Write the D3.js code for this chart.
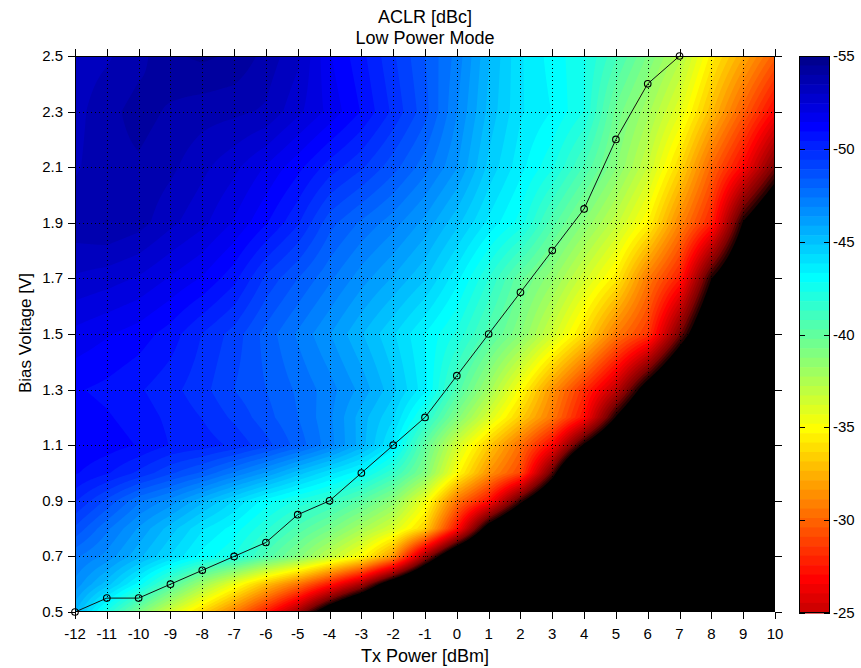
<!DOCTYPE html>
<html>
<head>
<meta charset="utf-8">
<script src="https://cdn.jsdelivr.net/npm/d3@7/dist/d3.min.js"></script>
<style>
html,body{margin:0;padding:0;background:#fff;}
svg text{font-family:"Liberation Sans",Arial,Helvetica,sans-serif;font-size:15px;fill:#000;}
svg text.big{font-size:18px;}
svg text.ylab{font-size:17px;}
</style>
</head>
<body>
<svg id="chart" width="861" height="668"></svg>
<script>
// ---------------- data ----------------
const txPower = [-12,-11,-10,-9,-8,-7,-6,-5,-4,-3,-2,-1,0,1,2,3,4,5,6,7,8,9,10];
const biasVoltage = [0.5,0.6,0.7,0.8,0.9,1.0,1.1,1.2,1.3,1.5,1.7,1.9,2.1,2.3,2.5];
// ACLR [dBc] per bias voltage row, one value per txPower column (values above about -21 show black)
const aclrV050 = [-45.4,-42.2,-39.2,-36.3,-33.6,-30.8,-27.6,-23.8,-18.5,-14,-10,-6,-5,-5,-5,-5,-5,-5,-5,-5,-5,-5,-5];
const aclrV060 = [-46.7,-45.1,-43.1,-40.6,-38.0,-35.5,-32.9,-30.5,-27.5,-24.0,-18.5,-14,-10,-6,-5,-5,-5,-5,-5,-5,-5,-5,-5];
const aclrV070 = [-47.5,-46.7,-45.5,-44.3,-43.1,-42.3,-40.6,-39.0,-37.0,-35.0,-31.6,-23.8,-17.0,-13,-9,-5,-5,-5,-5,-5,-5,-5,-5];
const aclrV080 = [-48.8,-47.5,-46.3,-45.1,-43.9,-43.1,-41.9,-40.6,-39.4,-37.8,-36.2,-33.5,-27.3,-19.4,-15,-11,-7,-5,-5,-5,-5,-5,-5];
const aclrV090 = [-50.0,-48.8,-47.5,-46.7,-45.5,-44.3,-43.1,-42.2,-41.4,-40.2,-38.6,-35.5,-30.5,-27.3,-21.5,-16.5,-12,-8,-5,-5,-5,-5,-5];
const aclrV100 = [-51.0,-50.5,-49.8,-49.0,-48.3,-47.3,-46.3,-45.1,-44.0,-43.0,-41.4,-39.0,-35.0,-31.5,-29.0,-22.0,-13,-9,-5,-5,-5,-5,-5];
const aclrV110 = [-51.4,-51.2,-50.9,-50.4,-50.2,-49.8,-49.1,-48.2,-47.1,-45.6,-43.7,-40.0,-36.4,-33.3,-30.3,-26.8,-20.6,-16,-12,-8,-5,-5,-5];
const aclrV120 = [-51.2,-51.0,-50.7,-50.3,-49.9,-49.3,-48.6,-47.9,-47.0,-45.6,-44.4,-42.0,-39.0,-36.2,-33.4,-30.6,-27.1,-20.8,-16,-12,-8,-5,-5];
const aclrV130 = [-51.0,-50.8,-50.5,-50.1,-49.6,-48.9,-48.4,-47.8,-47.1,-46.2,-45.0,-43.5,-40.6,-38.0,-35.0,-31.5,-28.2,-24.8,-19.4,-15,-11,-7,-5];
const aclrV150 = [-51.8,-51.5,-51.2,-50.7,-49.9,-49.2,-48.2,-47.3,-46.4,-45.4,-44.4,-43.3,-42.2,-40.5,-38.8,-36.5,-33.9,-30.7,-28.5,-22.6,-17,-13,-9];
const aclrV170 = [-52.9,-52.7,-52.4,-51.9,-51.4,-50.6,-49.3,-48.4,-47.5,-46.6,-45.8,-44.9,-43.5,-41.8,-39.9,-38.4,-36.4,-34.4,-30.7,-27.7,-21.0,-17,-13];
const aclrV190 = [-53.8,-54.0,-53.7,-53.1,-52.6,-51.9,-51.0,-50.0,-48.6,-47.8,-47.1,-46.2,-45.0,-43.7,-42.6,-40.5,-38.7,-36.9,-34.7,-31.1,-27.8,-20.8,-17];
const aclrV210 = [-53.4,-53.8,-53.9,-53.6,-53.1,-52.6,-51.9,-51.1,-50.2,-49.5,-48.6,-47.6,-46.4,-44.7,-43.5,-42.4,-40.7,-38.8,-36.7,-33.7,-30.0,-26.8,-22.5];
const aclrV230 = [-53.3,-53.8,-54.2,-53.9,-53.7,-53.6,-53.4,-52.6,-51.8,-50.9,-49.8,-48.6,-46.9,-45.2,-43.9,-43.3,-42.3,-39.6,-37.9,-35.8,-32.8,-29.8,-26.8];
const aclrV250 = [-53.2,-53.4,-53.8,-54.4,-54.6,-54.4,-53.8,-53.1,-51.5,-50.6,-49.5,-48.4,-47.2,-45.4,-43.9,-43.1,-42.4,-40.9,-39.2,-37.4,-34.5,-32.2,-29.8];
const aclrGrid = [aclrV050,aclrV060,aclrV070,aclrV080,aclrV090,aclrV100,aclrV110,aclrV120,aclrV130,aclrV150,aclrV170,aclrV190,aclrV210,aclrV230,aclrV250];

// overlaid line (chosen bias per Tx power)
const lineTx   = [-12,-11,-10,-9,-8,-7,-6,-5,-4,-3,-2,-1,0,1,2,3,4,5,6,7];
const lineBias = [0.5,0.55,0.55,0.6,0.65,0.7,0.75,0.85,0.9,1.0,1.1,1.2,1.35,1.5,1.65,1.8,1.95,2.2,2.4,2.5];

// tick labels
const xTickValues = [-12,-11,-10,-9,-8,-7,-6,-5,-4,-3,-2,-1,0,1,2,3,4,5,6,7,8,9,10];
const yTickValues = [0.5,0.7,0.9,1.1,1.3,1.5,1.7,1.9,2.1,2.3,2.5];
const cbTickValues = [-55,-50,-45,-40,-35,-30,-25];
const cmapMin = -55, cmapMax = -22.5;   // colour scale limits
const cbMin = -55, cbMax = -25;          // colour bar shown range

// ---------------- layout ----------------
const svg = d3.select("#chart");
const plot = {left:75, right:775, top:56, bottom:612};
const cbox = {left:799, right:830, top:56, bottom:613};
const xScale = d3.scaleLinear().domain([-12,10]).range([plot.left, plot.right]);
const yScale = d3.scaleLinear().domain([0.5,2.5]).range([plot.bottom, plot.top]);
const cbScale = d3.scaleLinear().domain([cbMin, cbMax]).range([cbox.top, cbox.bottom]);

// MATLAB jet(64)
function jetColormap(m){
  const n = Math.ceil(m/4);
  const u = [];
  for(let k=1;k<=n;k++) u.push(k/n);
  for(let k=1;k<n;k++) u.push(1);
  for(let k=n;k>=1;k--) u.push(k/n);
  const g0 = Math.ceil(n/2) - ((m%4)===1?1:0);
  const J = Array.from({length:m}, ()=>[0,0,0]);
  for(let k=1;k<=u.length;k++){
    const g=g0+k, r=g+n, b=g-n;
    if(r>=1&&r<=m) J[r-1][0]=u[k-1];
    if(g>=1&&g<=m) J[g-1][1]=u[k-1];
    if(b>=1&&b<=m) J[b-1][2]=u[k-1];
  }
  return J;
}
const jet = jetColormap(64);
const extraDark = [[0.38,0,0],[0.26,0,0],[0.14,0,0],[0,0,0]];
const bands = jet.concat(extraDark);
const bandStep = (cmapMax - cmapMin)/64;
const bandColor = k => { const c = bands[Math.max(0,Math.min(k,bands.length-1))]; return d3.rgb(c[0]*255,c[1]*255,c[2]*255).toString(); };

// resample grid for filled contour bands
function locate(arr, v){
  let i = d3.bisectRight(arr, v) - 1;
  i = Math.max(0, Math.min(arr.length-2, i));
  const t = (v-arr[i])/(arr[i+1]-arr[i]);
  return [i, Math.max(0, Math.min(1, t))];
}
const sx = 0.05, sy = 0.01;
const x0 = txPower[0], yTop = biasVoltage[biasVoltage.length-1];
const nx = Math.round((txPower[txPower.length-1]-x0)/sx)+1;
const ny = Math.round((yTop-biasVoltage[0])/sy)+1;
const values = new Float64Array(nx*ny);
for(let j=0;j<ny;j++){
  const yv = yTop - j*sy;
  const [ri, rt] = locate(biasVoltage, yv);
  for(let i=0;i<nx;i++){
    const xv = x0 + i*sx;
    const [ci, ct] = locate(txPower, xv);
    const a = aclrGrid[ri][ci], b = aclrGrid[ri][ci+1], c = aclrGrid[ri+1][ci], d = aclrGrid[ri+1][ci+1];
    values[j*nx+i] = (a*(1-ct)+b*ct)*(1-rt) + (c*(1-ct)+d*ct)*rt;
  }
}
const thresholds = d3.range(1, bands.length).map(k => cmapMin + k*bandStep);
const contours = d3.contours().size([nx, ny]).thresholds(thresholds)(values);
const proj = d3.geoTransform({point(px, py){
  this.stream.point(xScale(x0 + (px-0.5)*sx), yScale(yTop - (py-0.5)*sy));
}});
const path = d3.geoPath(proj);

svg.append("defs").append("clipPath").attr("id","plotclip")
  .append("rect").attr("x",plot.left).attr("y",plot.top)
  .attr("width",plot.right-plot.left).attr("height",plot.bottom-plot.top);

const field = svg.append("g").attr("clip-path","url(#plotclip)");
field.append("rect").attr("x",plot.left).attr("y",plot.top)
  .attr("width",plot.right-plot.left).attr("height",plot.bottom-plot.top)
  .attr("fill",bandColor(0));
field.selectAll("path.band").data(contours).join("path")
  .attr("class","band").attr("d",path)
  .attr("fill",(d,i)=>bandColor(i+1)).attr("stroke","none");

// dotted grid
const grid = svg.append("g").attr("clip-path","url(#plotclip)")
  .attr("stroke","#000").attr("stroke-width",1).attr("stroke-dasharray","1,3");
grid.selectAll("line.gx").data(xTickValues.slice(1,-1)).join("line")
  .attr("x1",d=>Math.round(xScale(d))+0.5).attr("x2",d=>Math.round(xScale(d))+0.5)
  .attr("y1",plot.top).attr("y2",plot.bottom);
grid.selectAll("line.gy").data(yTickValues.slice(1,-1)).join("line")
  .attr("y1",d=>Math.round(yScale(d))+0.5).attr("y2",d=>Math.round(yScale(d))+0.5)
  .attr("x1",plot.left).attr("x2",plot.right);

// line with circle markers
const pts = lineTx.map((t,i)=>[t, lineBias[i]]);
svg.append("path").datum(pts)
  .attr("d", d3.line().x(d=>xScale(d[0])).y(d=>yScale(d[1])))
  .attr("fill","none").attr("stroke","#111").attr("stroke-width",1);
svg.append("g").selectAll("circle").data(pts).join("circle")
  .attr("cx",d=>xScale(d[0])).attr("cy",d=>yScale(d[1])).attr("r",3.3)
  .attr("fill","none").attr("stroke","#000").attr("stroke-width",1.1);

// axes box and ticks
const ax = svg.append("g").attr("stroke","#000").attr("stroke-width",1);
ax.append("rect").attr("x",plot.left+0.5).attr("y",plot.top+0.5)
  .attr("width",plot.right-plot.left-1).attr("height",plot.bottom-plot.top-1).attr("fill","none");
const tl = 7;
xTickValues.forEach(v=>{
  const px = Math.round(xScale(v))+0.5;
  ax.append("line").attr("x1",px).attr("x2",px).attr("y1",plot.bottom).attr("y2",plot.bottom+tl);
  ax.append("line").attr("x1",px).attr("x2",px).attr("y1",plot.top).attr("y2",plot.top-tl);
});
yTickValues.forEach(v=>{
  const py = Math.round(yScale(v))+0.5;
  ax.append("line").attr("y1",py).attr("y2",py).attr("x1",plot.left).attr("x2",plot.left-tl);
  ax.append("line").attr("y1",py).attr("y2",py).attr("x1",plot.right).attr("x2",plot.right+tl);
});
svg.append("g").selectAll("text").data(xTickValues).join("text")
  .attr("x",d=>xScale(d)).attr("y",639).attr("text-anchor","middle").text(d=>String(d));
svg.append("g").selectAll("text").data(yTickValues).join("text")
  .attr("x",63).attr("y",d=>yScale(d)+5).attr("text-anchor","end").text(d=>d.toFixed(1));

// titles and axis labels
svg.append("text").attr("class","big").attr("x",425).attr("y",23).attr("text-anchor","middle").text("ACLR [dBc]");
svg.append("text").attr("class","big").attr("x",425).attr("y",44).attr("text-anchor","middle").text("Low Power Mode");
svg.append("text").attr("class","big").attr("x",425).attr("y",662).attr("text-anchor","middle").text("Tx Power [dBm]");
svg.append("text").attr("class","ylab").attr("transform","translate(31,333) rotate(-90)").attr("text-anchor","middle").text("Bias Voltage [V]");

// colour bar
const cb = svg.append("g");
d3.range(0,64).forEach(k=>{
  const lo = Math.max(cbMin, k===0 ? cbMin : cmapMin + k*bandStep);
  const hi = Math.min(cbMax, cmapMin + (k+1)*bandStep);
  if(hi <= lo) return;
  cb.append("rect").attr("x",cbox.left).attr("width",cbox.right-cbox.left)
    .attr("y",cbScale(lo)).attr("height",cbScale(hi)-cbScale(lo)+0.6)
    .attr("fill",bandColor(k));
});
cb.append("rect").attr("x",cbox.left+0.5).attr("y",cbox.top+0.5)
  .attr("width",cbox.right-cbox.left-1).attr("height",cbox.bottom-cbox.top-1)
  .attr("fill","none").attr("stroke","#000");
cbTickValues.forEach(v=>{
  const py = Math.round(cbScale(v))+0.5;
  cb.append("line").attr("x1",cbox.left).attr("x2",cbox.left+6).attr("y1",py).attr("y2",py).attr("stroke","#000");
  cb.append("line").attr("x1",cbox.right).attr("x2",cbox.right-6).attr("y1",py).attr("y2",py).attr("stroke","#000");
});
cb.selectAll("text").data(cbTickValues).join("text")
  .attr("x",833).attr("y",d=>cbScale(d)+5).attr("text-anchor","start").text(d=>String(d));
</script>
</body>
</html>
